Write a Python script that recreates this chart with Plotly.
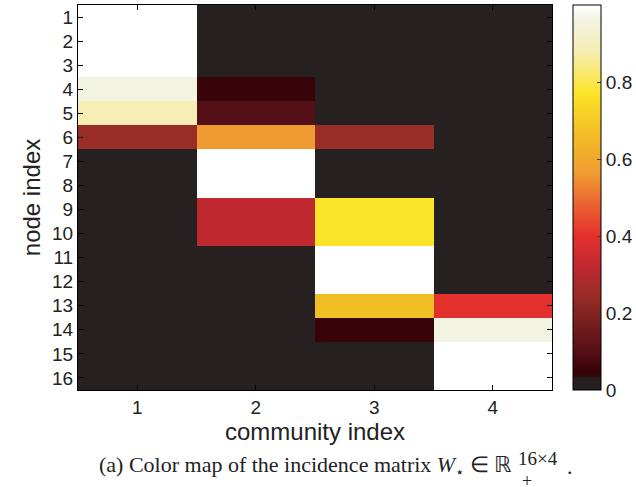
import plotly.graph_objects as go

# Incidence matrix W (16 nodes x 4 communities)
nodes = list(range(1, 17))
communities = [1, 2, 3, 4]
col1 = [1.0, 1.0, 1.0, 0.96, 0.88, 0.25, 0, 0, 0, 0, 0, 0, 0, 0, 0, 0]
col2 = [0, 0, 0, 0.05, 0.10, 0.56, 1.0, 1.0, 0.32, 0.32, 0, 0, 0, 0, 0, 0]
col3 = [0, 0, 0, 0, 0, 0.25, 0, 0, 0.77, 0.77, 1.0, 1.0, 0.67, 0.05, 0, 0]
col4 = [0, 0, 0, 0, 0, 0, 0, 0, 0, 0, 0, 0, 0.40, 0.96, 1.0, 1.0]

z = [[col1[i], col2[i], col3[i], col4[i]] for i in range(16)]

hot_gray = [
    [0.0, "rgb(38,32,32)"],
    [0.03, "rgb(38,32,32)"],
    [0.04, "rgb(50,0,5)"],
    [0.10, "rgb(85,15,22)"],
    [0.25, "rgb(155,45,40)"],
    [0.32, "rgb(192,40,48)"],
    [0.40, "rgb(228,48,45)"],
    [0.50, "rgb(236,110,50)"],
    [0.56, "rgb(240,155,50)"],
    [0.67, "rgb(242,190,38)"],
    [0.77, "rgb(252,228,40)"],
    [0.88, "rgb(246,238,180)"],
    [0.96, "rgb(242,243,225)"],
    [1.0, "rgb(255,255,255)"],
]

fig = go.Figure(
    go.Heatmap(
        z=z,
        x=communities,
        y=nodes,
        zmin=0,
        zmax=1.0,
        colorscale=hot_gray,
        colorbar=dict(
            x=(573 - 78) / 474,
            xanchor="left",
            y=0.5,
            yanchor="middle",
            len=1.0,
            lenmode="fraction",
            thickness=28,
            outlinewidth=1,
            outlinecolor="black",
            tickvals=[0, 0.2, 0.4, 0.6, 0.8],
            ticktext=["0", "0.2", "0.4", "0.6", "0.8"],
            ticks="inside",
            ticklen=4,
            tickfont=dict(family="Liberation Sans", size=19, color="#222"),
            xpad=0,
            ypad=0,
        ),
        showscale=True,
    )
)

axis_common = dict(
    showline=True,
    linecolor="black",
    linewidth=1,
    mirror="ticks",
    ticks="inside",
    ticklen=5,
    tickcolor="black",
    showgrid=False,
    zeroline=False,
    tickfont=dict(family="Liberation Sans", size=19, color="#222"),
)

fig.update_xaxes(
    tickvals=communities,
    range=[0.5, 4.5],
    title=dict(text="community index", font=dict(family="Liberation Sans", size=24, color="#222"), standoff=6),
    **axis_common,
)
fig.update_yaxes(
    tickvals=nodes,
    range=[16.5, 0.5],
    title=dict(text="node index", font=dict(family="Liberation Sans", size=24, color="#222"), standoff=4),
    **axis_common,
)


def px_x(p):
    return (p - 78) / 474


def px_y(p):
    return (390 - p) / 385


serif = "Liberation Serif"
fig.add_annotation(
    text="(a) Color map of the incidence matrix <i>W</i><sub>⋆</sub> ∈ ℝ",
    xref="paper", yref="paper", x=px_x(514), y=px_y(466),
    xanchor="right", yanchor="middle", showarrow=False,
    font=dict(family=serif, size=22, color="#222"),
)
fig.add_annotation(
    text="16×4",
    xref="paper", yref="paper", x=px_x(516), y=px_y(458),
    xanchor="left", yanchor="middle", showarrow=False,
    font=dict(family=serif, size=19, color="#222"),
)
fig.add_annotation(
    text="+",
    xref="paper", yref="paper", x=px_x(527), y=px_y(481),
    xanchor="center", yanchor="middle", showarrow=False,
    font=dict(family=serif, size=18, color="#222"),
)
fig.add_annotation(
    text=".",
    xref="paper", yref="paper", x=px_x(565), y=px_y(466),
    xanchor="left", yanchor="middle", showarrow=False,
    font=dict(family=serif, size=22, color="#222"),
)

fig.update_layout(
    width=636,
    height=487,
    margin=dict(l=78, r=84, t=5, b=97, autoexpand=False),
    paper_bgcolor="white",
    plot_bgcolor="white",
)

fig.write_html("out.html")
